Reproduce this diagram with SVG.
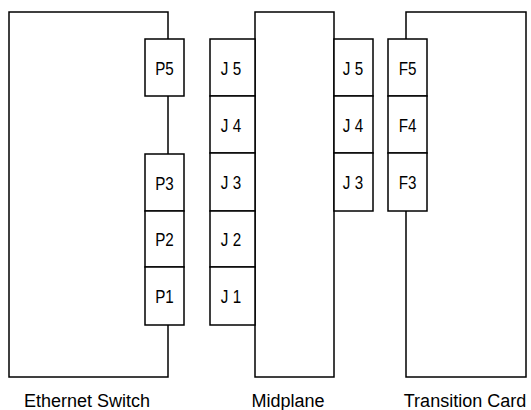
<svg xmlns="http://www.w3.org/2000/svg" width="531" height="410" viewBox="0 0 531 410">
  <style>
    .board { fill: #fff; stroke: #000; stroke-width: 1.5; }
    .conn { fill: #fff; stroke: #000; stroke-width: 1.5; }
    .pin { font-family: "Liberation Sans", Arial, sans-serif; font-size: 19px; text-anchor: middle; fill: #000; }
    .caption { font-family: "Liberation Sans", Arial, sans-serif; font-size: 18px; text-anchor: middle; fill: #000; }
  </style>

  <!-- Ethernet switch board with its P connectors -->
  <g id="ethernet-switch">
    <rect class="board" x="9" y="12" width="159" height="365"/>
    <rect class="conn" x="145" y="39" width="39" height="57"/>
    <rect class="conn" x="145" y="154" width="39" height="57"/>
    <rect class="conn" x="145" y="211" width="39" height="56"/>
    <rect class="conn" x="145" y="267" width="39" height="58"/>
    <text class="pin" transform="translate(164.5 75) scale(0.8 1)">P5</text>
    <text class="pin" transform="translate(164.5 190) scale(0.8 1)">P3</text>
    <text class="pin" transform="translate(164.5 246) scale(0.8 1)">P2</text>
    <text class="pin" transform="translate(164.5 303) scale(0.8 1)">P1</text>
    <text class="caption" x="87" y="407">Ethernet Switch</text>
  </g>

  <!-- Midplane with J connectors on both faces -->
  <g id="midplane">
    <rect class="board" x="255" y="12" width="79" height="365"/>
    <rect class="conn" x="210" y="39" width="45" height="57"/>
    <rect class="conn" x="210" y="96" width="45" height="57"/>
    <rect class="conn" x="210" y="153" width="45" height="58"/>
    <rect class="conn" x="210" y="211" width="45" height="56"/>
    <rect class="conn" x="210" y="267" width="45" height="58"/>
    <text class="pin" transform="translate(231 75) scale(0.8 1)">J 5</text>
    <text class="pin" transform="translate(231 132) scale(0.8 1)">J 4</text>
    <text class="pin" transform="translate(231 189) scale(0.8 1)">J 3</text>
    <text class="pin" transform="translate(231 246) scale(0.8 1)">J 2</text>
    <text class="pin" transform="translate(231 303) scale(0.8 1)">J 1</text>
    <rect class="conn" x="334" y="39" width="39" height="57"/>
    <rect class="conn" x="334" y="96" width="39" height="57"/>
    <rect class="conn" x="334" y="153" width="39" height="58"/>
    <text class="pin" transform="translate(353 75) scale(0.8 1)">J 5</text>
    <text class="pin" transform="translate(353 132) scale(0.8 1)">J 4</text>
    <text class="pin" transform="translate(353 189) scale(0.8 1)">J 3</text>
    <text class="caption" x="288" y="407">Midplane</text>
  </g>

  <!-- Transition card with its F connectors -->
  <g id="transition-card">
    <rect class="board" x="406" y="12" width="120" height="365"/>
    <rect class="conn" x="388" y="39" width="39" height="57"/>
    <rect class="conn" x="388" y="96" width="39" height="57"/>
    <rect class="conn" x="388" y="153" width="39" height="58"/>
    <text class="pin" transform="translate(407.5 75) scale(0.8 1)">F5</text>
    <text class="pin" transform="translate(407.5 132) scale(0.8 1)">F4</text>
    <text class="pin" transform="translate(407.5 189) scale(0.8 1)">F3</text>
    <text class="caption" x="465" y="407">Transition Card</text>
  </g>

  <!-- no connector lines: the boards meet through their mated connectors -->
  <g id="connectors"/>
</svg>
